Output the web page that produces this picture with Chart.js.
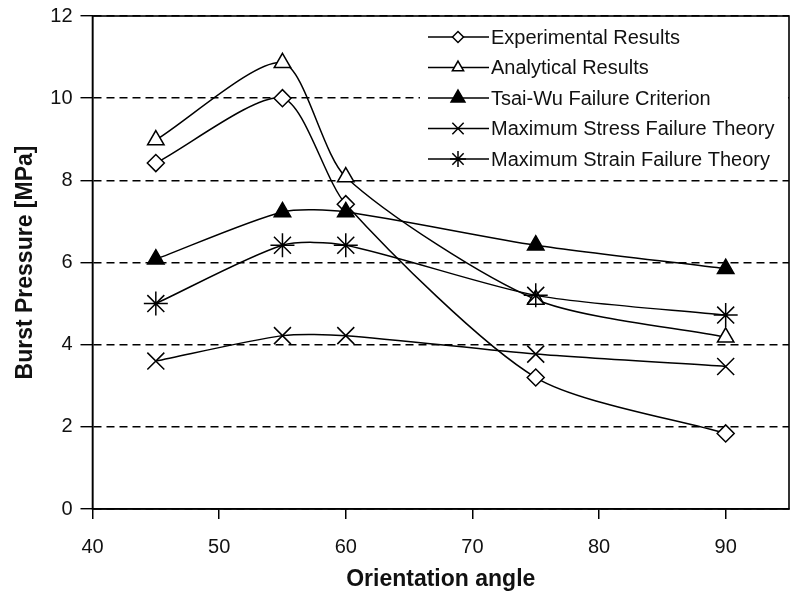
<!DOCTYPE html>
<html>
<head>
<meta charset="utf-8">
<title>Burst Pressure vs Orientation Angle</title>
<script src="https://cdn.jsdelivr.net/npm/chart.js@4.4.1/dist/chart.umd.min.js"></script>
<style>
  html, body { margin: 0; padding: 0; background: #fff; overflow: hidden; }
  canvas { display: block; }
</style>
</head>
<body>
<canvas id="burstChart" width="790" height="599"></canvas>
<script>
// winding angles and burst pressures (MPa)
const angles = [45, 55, 60, 75, 90];
const experimental = [8.42, 10.0, 7.42, 3.2, 1.84];
const analytical = [8.98, 10.86, 8.08, 5.1, 4.18];
const tsaiWu = [6.08, 7.23, 7.23, 6.42, 5.85];
const maxStress = [3.6, 4.22, 4.22, 3.77, 3.47];
const maxStrain = [5.0, 6.42, 6.42, 5.2, 4.72];

const xTicks = [40, 50, 60, 70, 80, 90];
const yTicks = [0, 2, 4, 6, 8, 10, 12];

const series = [
  { label: "Experimental Results", values: experimental, style: "rectRot", r: 8.5, fill: "#fff", legendR: 5.5 },
  { label: "Analytical Results", values: analytical, style: "triangle", r: 9.5, fill: "#fff", legendR: 6.5 },
  { label: "Tsai-Wu Failure Criterion", values: tsaiWu, style: "triangle", r: 9.5, fill: "#000", legendR: 8 },
  { label: "Maximum Stress Failure Theory", values: maxStress, style: "crossRot", r: 12, fill: "#000", legendR: 8 },
  { label: "Maximum Strain Failure Theory", values: maxStrain, style: "star", r: 12, fill: "#000", legendR: 8 },
];

Chart.defaults.font.family = "'Liberation Sans', Arial, sans-serif";
Chart.defaults.color = "#111";

// legend sits inside the plot, top right, on a white patch
const legendBox = {
  id: "legendBox",
  afterDatasetsDraw(chart) {
    const { ctx, chartArea } = chart;
    const left = 420;
    ctx.save();
    ctx.fillStyle = "#fff";
    ctx.fillRect(left, chartArea.top + 1, chartArea.right - left - 1, 157);
    ctx.font = "20px 'Liberation Sans', Arial, sans-serif";
    ctx.textBaseline = "middle";
    ctx.textAlign = "left";
    series.forEach((s, i) => {
      const y = chartArea.top + 21 + i * 30.5;
      ctx.strokeStyle = "#000";
      ctx.lineWidth = 1.5;
      ctx.beginPath();
      ctx.moveTo(428, y);
      ctx.lineTo(489, y);
      ctx.stroke();
      ctx.fillStyle = s.fill;
      Chart.helpers.drawPoint(ctx, { pointStyle: s.style, radius: s.legendR, rotation: 0, borderWidth: 1.5 }, 458, y);
      ctx.fillStyle = "#111";
      ctx.fillText(s.label, 491, y + 1);
    });
    ctx.restore();
  },
  afterDraw(chart) {
    // plot frame
    const { ctx, chartArea } = chart;
    ctx.save();
    ctx.strokeStyle = "#000";
    ctx.lineWidth = 1.6;
    ctx.strokeRect(chartArea.left, chartArea.top, chartArea.right - chartArea.left, chartArea.bottom - chartArea.top);
    ctx.restore();
  },
};

new Chart(document.getElementById("burstChart"), {
  type: "line",
  data: {
    datasets: series.map((s, i) => ({
      label: s.label,
      data: angles.map((a, k) => ({ x: a, y: s.values[k] })),
      order: series.length - i,
      borderColor: "#000",
      borderWidth: 1.5,
      tension: 0.25,
      pointStyle: s.style,
      pointRadius: s.r,
      pointHoverRadius: s.r,
      pointBackgroundColor: s.fill,
      pointBorderColor: "#000",
      pointBorderWidth: 1.5,
    })),
  },
  options: {
    responsive: false,
    animation: false,
    layout: { autoPadding: false, padding: { top: 16, right: 1, left: 0, bottom: 0 } },
    plugins: {
      legend: { display: false },
      tooltip: { enabled: false },
    },
    scales: {
      x: {
        type: "linear",
        min: 40,
        max: 95,
        afterBuildTicks: (axis) => {
          axis.ticks = xTicks.map((v) => ({ value: v }));
        },
        afterFit: (axis) => {
          axis.height = 90;
          axis.paddingLeft = 0;
          axis.paddingRight = 0;
        },
        grid: { drawOnChartArea: false, color: "#000", lineWidth: 1.5, tickLength: 10 },
        border: { color: "#000", width: 1.5 },
        ticks: { font: { size: 20 }, padding: 16, maxRotation: 0, color: "#111" },
        title: {
          display: true,
          text: "Orientation angle",
          font: { size: 23, weight: "bold" },
          padding: { top: 0, bottom: 6 },
          color: "#111",
        },
      },
      y: {
        min: 0,
        max: 12,
        afterBuildTicks: (axis) => {
          axis.ticks = yTicks.map((v) => ({ value: v }));
        },
        afterFit: (axis) => {
          axis.width = 92.5;
          axis.paddingTop = 0;
          axis.paddingBottom = 0;
        },
        grid: { color: "#000", lineWidth: 1.4, tickLength: 12, tickBorderDash: [], tickColor: "#000" },
        border: { color: "#000", width: 1.5, dash: [8, 5] },
        ticks: { font: { size: 20 }, padding: 8, color: "#111" },
        title: {
          display: true,
          text: "Burst Pressure [MPa]",
          font: { size: 23, weight: "bold" },
          padding: { top: 12, bottom: 0 },
          color: "#111",
        },
      },
    },
  },
  plugins: [legendBox],
});
</script>
</body>
</html>
